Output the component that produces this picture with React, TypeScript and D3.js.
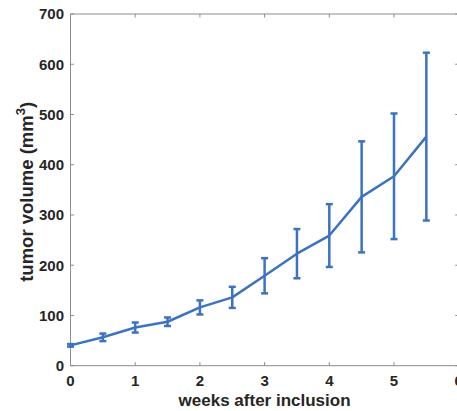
import React from 'react'
import * as d3 from 'd3'

const width = 457
const height = 411

const weeks = [0, 0.5, 1, 1.5, 2, 2.5, 3, 3.5, 4, 4.5, 5, 5.5]
const volume = [40.5, 56.5, 76, 87.5, 116, 136, 179, 223, 259, 336, 377, 456]
const volumeErr = [2.5, 7.5, 10, 8.5, 14, 21, 35, 49, 62.5, 110.5, 125, 167]
const xTicks = [0, 1, 2, 3, 4, 5, 6]
const yTicks = [0, 100, 200, 300, 400, 500, 600, 700]

const margin = { left: 70.5, right: 458.7, top: 14, bottom: 365.7 }
const lineColor = '#3d72c2'
const axisColor = '#8c8c8c'
const textColor = '#262626'
const font = 'Liberation Sans, Arial, Helvetica, sans-serif'

export default function App() {
  const x = d3.scaleLinear().domain([0, 6]).range([margin.left, margin.right])
  const y = d3.scaleLinear().domain([0, 700]).range([margin.bottom, margin.top])
  const line = d3.line<number>()
    .x((_, i) => x(weeks[i]))
    .y(v => y(v))
  const tickLen = 3.5
  const cap = 3.5

  return (
    <svg width={width} height={height}
      style={{ position: 'absolute', left: 0, top: 0, background: '#fff' }}>
      {/* box */}
      <g stroke={axisColor} strokeWidth={1} fill="none">
        <line x1={x(0)} x2={x(6)} y1={y(0)} y2={y(0)} />
        <line x1={x(0)} x2={x(6)} y1={y(700)} y2={y(700)} />
        <line x1={x(0)} x2={x(0)} y1={y(0)} y2={y(700)} />
        <line x1={x(6)} x2={x(6)} y1={y(0)} y2={y(700)} />
        {xTicks.map(t => (
          <g key={t}>
            <line x1={x(t)} x2={x(t)} y1={y(0)} y2={y(0) - tickLen} />
            <line x1={x(t)} x2={x(t)} y1={y(700)} y2={y(700) + tickLen} />
          </g>
        ))}
        {yTicks.map(t => (
          <g key={t}>
            <line x1={x(0)} x2={x(0) + tickLen} y1={y(t)} y2={y(t)} />
            <line x1={x(6)} x2={x(6) - tickLen} y1={y(t)} y2={y(t)} />
          </g>
        ))}
      </g>
      {/* tick labels */}
      <g fill={textColor} fontFamily={font} fontWeight="bold" fontSize={15}>
        {xTicks.map(t => (
          <text key={t} x={x(t)} y={386} textAnchor="middle">{t}</text>
        ))}
        {yTicks.map(t => (
          <text key={t} x={64} y={y(t) + 5.3} textAnchor="end">{t}</text>
        ))}
      </g>
      {/* axis labels */}
      <text x={(x(0) + x(6)) / 2} y={406} textAnchor="middle" fill={textColor}
        fontFamily={font} fontWeight="bold" fontSize={17}>weeks after inclusion</text>
      <text transform={`translate(32.5,${(y(0) + y(700)) / 2 + 2}) rotate(-90)`} textAnchor="middle"
        fill={textColor} fontFamily={font} fontWeight="bold" fontSize={18.5}>
        tumor volume (mm<tspan dy={-7.5} fontSize={13}>3</tspan><tspan dy={7.5}>)</tspan>
      </text>
      {/* series */}
      <path d={line(volume) ?? ''} fill="none" stroke={lineColor} strokeWidth={2.5}
        strokeLinejoin="round" />
      <g stroke={lineColor} strokeWidth={2.5} fill="none">
        {weeks.map((w, i) => {
          const lo = y(volume[i] - volumeErr[i])
          const hi = y(volume[i] + volumeErr[i])
          return (
            <g key={w}>
              <line x1={x(w)} x2={x(w)} y1={lo} y2={hi} />
              <line x1={x(w) - cap} x2={x(w) + cap} y1={lo} y2={lo} />
              <line x1={x(w) - cap} x2={x(w) + cap} y1={hi} y2={hi} />
            </g>
          )
        })}
      </g>
    </svg>
  )
}
